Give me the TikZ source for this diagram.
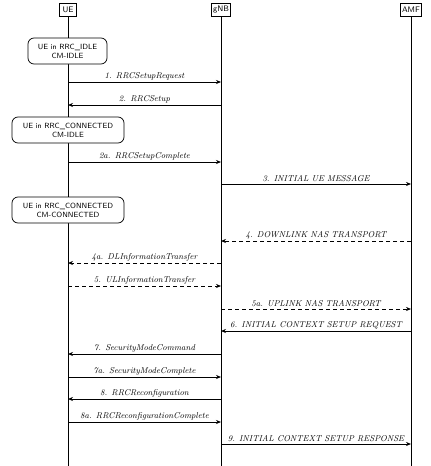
\documentclass[tikz,border=0pt]{standalone}
\usetikzlibrary{arrows.meta}
\begin{document}
\begin{tikzpicture}[x=1pt, y=-1pt, line width=0.7pt, >={Stealth[length=5pt,width=4pt]},
    actor/.style={draw, fill=white, font=\sffamily\footnotesize, inner sep=1.5pt, minimum height=13pt, minimum width=17pt},
    state/.style={draw, fill=white, rounded corners=6pt, align=center, font=\sffamily\fontsize{7.5}{9}\selectfont, minimum height=26pt, inner sep=2pt},
    msg/.style={->},
    nas/.style={->, dash pattern=on 4pt off 3pt},
    lbl/.style={above, inner sep=1.5pt, font=\fontsize{8.5}{10}\selectfont\itshape}]

    \useasboundingbox (0,0) rectangle (431,466);

    % Entities
    \node[actor] (ue)  at (68,9.5)  {UE};
    \node[actor] (gnb) at (221,9.5) {gNB};
    \node[actor] (amf) at (411,9.5) {AMF};

    % Lifelines
    \draw (ue.south)  -- (ue |- 0,466);
    \draw (gnb.south) -- (gnb |- 0,466);
    \draw (amf.south) -- (amf |- 0,466);

    % UE states
    \node[state, minimum width=79pt]  (idle) at (67.5,51)  {UE in RRC\_IDLE\\CM-IDLE};
    \node[state, minimum width=112pt] (conn) at (68,130)   {UE in RRC\_CONNECTED\\CM-IDLE};
    \node[state, minimum width=112pt] (cmc)  at (68,210)   {UE in RRC\_CONNECTED\\CM-CONNECTED};

    % Messages
    \draw[msg] (ue |- 0,82)   -- (gnb |- 0,82)  node[lbl, midway] {1. RRCSetupRequest};
    \draw[msg] (gnb |- 0,105) -- (ue |- 0,105)  node[lbl, midway] {2. RRCSetup};
    \draw[msg] (ue |- 0,162)  -- (gnb |- 0,162) node[lbl, midway] {2a. RRCSetupComplete};
    \draw[msg] (gnb |- 0,184) -- (amf |- 0,184) node[lbl, midway] {3. INITIAL UE MESSAGE};

    \draw[nas] (amf |- 0,241) -- (gnb |- 0,241) node[lbl, midway] {4. DOWNLINK NAS TRANSPORT};
    \draw[nas] (gnb |- 0,263) -- (ue |- 0,263)  node[lbl, midway] {4a. DLInformationTransfer};
    \draw[nas] (ue |- 0,286)  -- (gnb |- 0,286) node[lbl, midway] {5. ULInformationTransfer};
    \draw[nas] (gnb |- 0,309) -- (amf |- 0,309) node[lbl, midway] {5a. UPLINK NAS TRANSPORT};

    \draw[msg] (amf |- 0,331) -- (gnb |- 0,331) node[lbl, midway] {6. INITIAL CONTEXT SETUP REQUEST};
    \draw[msg] (gnb |- 0,354) -- (ue |- 0,354)  node[lbl, midway] {7. SecurityModeCommand};
    \draw[msg] (ue |- 0,377)  -- (gnb |- 0,377) node[lbl, midway] {7a. SecurityModeComplete};
    \draw[msg] (gnb |- 0,399) -- (ue |- 0,399)  node[lbl, midway] {8. RRCReconfiguration};
    \draw[msg] (ue |- 0,422)  -- (gnb |- 0,422) node[lbl, midway] {8a. RRCReconfigurationComplete};
    \draw[msg] (gnb |- 0,444) -- (amf |- 0,444) node[lbl, midway] {9. INITIAL CONTEXT SETUP RESPONSE};

\end{tikzpicture}
\end{document}
